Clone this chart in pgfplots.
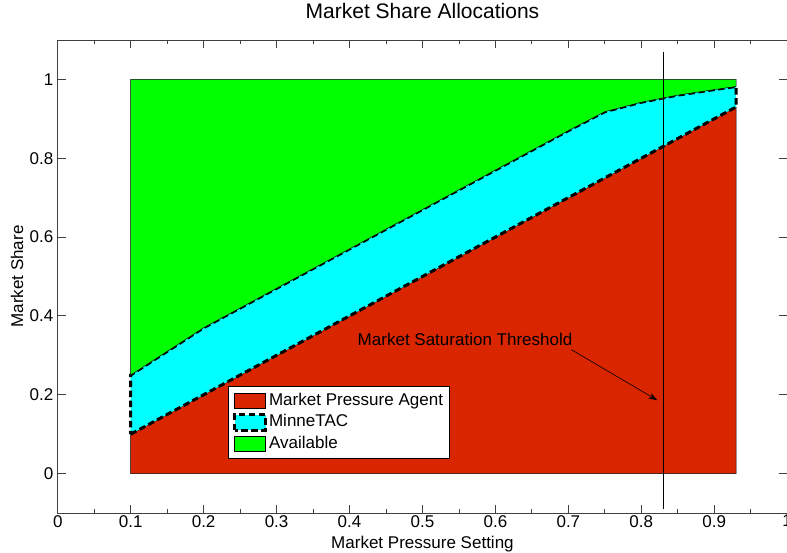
\documentclass[border=0pt]{standalone}
\usepackage{pgfplots}
\pgfplotsset{compat=1.18}
\usepackage{fontspec}
\setmainfont{Liberation Sans}
\usetikzlibrary{arrows.meta}
\definecolor{mpred}{RGB}{217,38,0}
\definecolor{mpcyan}{RGB}{0,255,255}
\definecolor{mpgreen}{RGB}{0,255,0}
\begin{document}
\begin{tikzpicture}
\begin{axis}[
  name=ax, at={(0,0)}, anchor=south west,
  scale only axis, width=729bp, height=472.8bp,
  xmin=0, xmax=1, ymin=-0.1, ymax=1.1,
  xtick={0,0.1,0.2,0.3,0.4,0.5,0.6,0.7,0.8,0.9,1},
  minor xtick={0.05,0.15,0.25,0.35,0.45,0.55,0.65,0.75,0.85,0.95},
  ytick={0,0.2,0.4,0.6,0.8,1},
  tick align=inside, major tick length=8bp, minor tick length=4bp,
  every tick/.style={black!75, line width=0.8bp},
  axis line style={black!75, line width=0.8bp},
  /pgf/number format/assume math mode=true,
  tick label style={font=\fontsize{17bp}{20bp}\selectfont},
  xticklabel style={yshift=1.3bp},
  yticklabel style={xshift=-1bp},
  label style={font=\fontsize{17bp}{20bp}\selectfont},
  xlabel={Market Pressure Setting},
  ylabel={Market Share},
  xlabel style={at={(axis description cs:0.5,0)}, anchor=north, yshift=-19.5bp},
  ylabel style={at={(axis description cs:-0.0558,0.5)}, anchor=center},
  title={Market Share Allocations},
  title style={at={(axis description cs:0.5,1)}, anchor=base, yshift=15bp, font=\fontsize{21bp}{25bp}\selectfont},
  legend style={at={(axis description cs:0.2336,0.268)}, anchor=north west,
    draw=black, line width=0.8bp, fill=white, font=\fontsize{17bp}{20bp}\selectfont,
    inner xsep=4.5bp, inner ysep=3.5bp, row sep=0bp,
    nodes={inner sep=2bp, text height=13.3bp, text depth=4.2bp}},
  legend cell align=left,
  legend image code/.code={\draw[#1] (0bp,-7.8bp) rectangle (31bp,7.8bp);},
]
% Market Pressure Agent
\addplot[fill=mpred, draw=black, line width=0.5bp] coordinates {
  (0.1,0) (0.1,0.1) (0.93,0.93) (0.93,0)
} -- cycle;
% MinneTAC
\addplot[fill=mpcyan, draw=black, line width=3bp, dash pattern=on 6.5bp off 3.5bp] coordinates {
  (0.1,0.1) (0.93,0.93) (0.93,0.982) (0.9,0.974) (0.85,0.96) (0.8,0.942)
  (0.75,0.918) (0.7,0.87) (0.6,0.77) (0.5,0.67) (0.4,0.57) (0.3,0.47)
  (0.2,0.37) (0.1,0.25)
} -- cycle;
% Available
\addplot[fill=mpgreen, draw=black, line width=0.5bp] coordinates {
  (0.1,0.25) (0.2,0.37) (0.3,0.47) (0.4,0.57) (0.5,0.67) (0.6,0.77)
  (0.7,0.87) (0.75,0.918) (0.8,0.942) (0.85,0.96) (0.9,0.974) (0.93,0.982)
  (0.93,1) (0.1,1)
} -- cycle;
% threshold line
\addplot[black, line width=0.8bp, forget plot] coordinates {(0.83,-0.09) (0.83,1.07)};
\legend{Market Pressure Agent, MinneTAC, Available}
\node[anchor=base west, inner sep=0pt, font=\fontsize{17bp}{20bp}\selectfont] at (axis cs:0.411,0.3256) {Market Saturation Threshold};
\draw[-{Stealth[length=9bp,width=6bp]}, line width=0.6bp] (axis cs:0.704,0.3145) -- (axis cs:0.822,0.186);
\end{axis}
\pgfresetboundingbox
\useasboundingbox (-57.7bp,-39.3bp) rectangle (728.8bp,512.7bp);
\end{tikzpicture}
\end{document}
